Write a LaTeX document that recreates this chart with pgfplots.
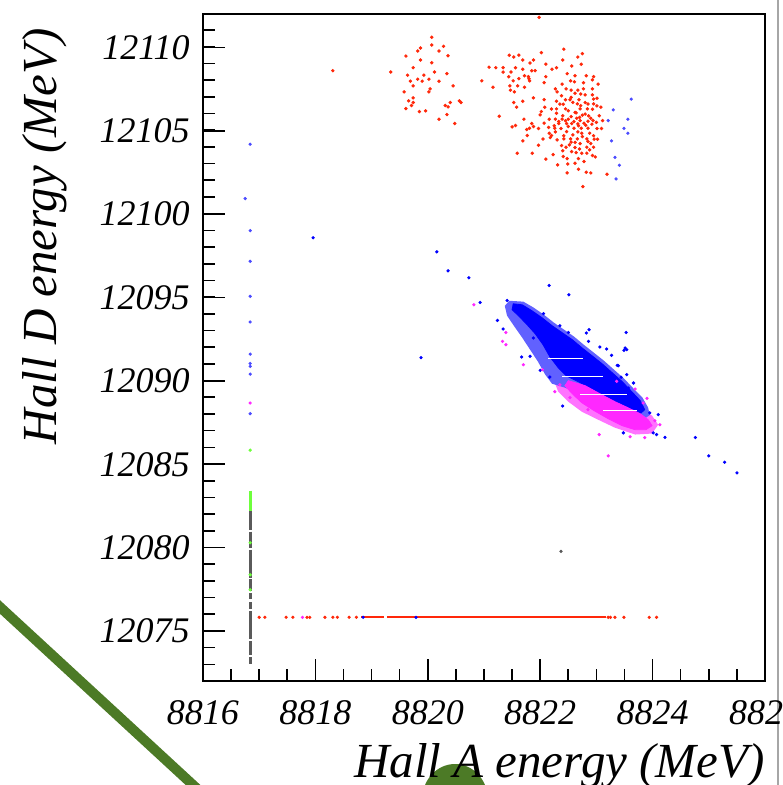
\documentclass[border=0pt]{standalone}
\usepackage{fontspec}
\setmainfont{Liberation Serif}
\usepackage{pgfplots}
\pgfplotsset{compat=1.18}
\definecolor{rootred}{RGB}{255,40,10}
\definecolor{rootblue}{RGB}{0,0,255}
\definecolor{rootmag}{RGB}{255,40,255}
\definecolor{rootgreen}{RGB}{110,255,60}
\definecolor{rootgrey}{RGB}{90,90,90}
\definecolor{slidegreen}{RGB}{76,122,38}
\begin{document}
\begin{tikzpicture}
\useasboundingbox (-101.5pt,-52pt) rectangle (289.5pt,340.5pt);
\clip (-101.5pt,-52pt) rectangle (289.5pt,340.5pt);
% slide decorations around the screenshot
\fill[slidegreen] (126pt,-59.5pt) ellipse [x radius=16.5pt, y radius=18pt];
\draw[slidegreen, line width=5pt] (-111.5pt,46.2pt) -- (5pt,-61.2pt);
\draw[gray!70, line width=1pt] (287.3pt,-60pt) -- (287.3pt,350pt);
\begin{axis}[
  at={(0pt,0pt)}, anchor=south west,
  scale only axis, width=281pt, height=333.5pt,
  xmin=8816, xmax=8826, ymin=12072, ymax=12112,
  axis line style={black, line width=1pt},
  tick style={black, line width=0.8pt},
  major tick length=11pt, minor tick length=6pt,
  tick align=inside, xtick pos=bottom, ytick pos=left,
  xtick={8816,8818,...,8826}, ytick={12075,12080,...,12110},
  minor xtick={8816.5,8817,...,8825.5}, minor ytick={12073,12074,...,12111},
  scaled x ticks=false, scaled y ticks=false,
  /pgf/number format/1000 sep={},
  /pgf/number format/assume math mode=true,
  xticklabel style={font=\fontsize{18}{18}\selectfont\itshape, inner sep=0pt, anchor=north, yshift=-9.5pt},
  yticklabel style={font=\fontsize{18}{18}\selectfont\itshape, inner sep=0pt, anchor=east, xshift=-6.5pt},
  xlabel={Hall A energy (MeV)}, ylabel={Hall D energy (MeV)},
  every axis x label/.style={at={(axis description cs:1,-0.1454)}, anchor=base east, inner sep=0pt, font=\fontsize{24.5}{24.5}\selectfont\itshape},
  every axis y label/.style={at={(axis description cs:-0.281,0.979)}, rotate=90, anchor=east, inner sep=0pt, font=\fontsize{24.5}{24.5}\selectfont\itshape},
]
% ---- red cluster (left group)
\addplot[only marks, mark=*, mark size=0.65pt, color=rootred] coordinates {
(8818.31,12108.60)(8819.34,12108.52)(8820.07,12110.60)(8820.07,12110.14)(8819.87,12109.96)
(8819.82,12109.78)(8820.28,12110.06)(8820.20,12109.78)(8819.61,12109.48)(8820.36,12109.50)
(8819.87,12109.24)(8820.07,12109.08)(8819.74,12108.78)(8820.12,12108.52)(8820.34,12108.42)
(8819.64,12108.33)(8819.93,12108.33)(8819.82,12108.09)(8820.02,12108.09)(8819.69,12107.97)
(8819.90,12107.97)(8820.20,12107.97)(8819.74,12107.69)(8820.45,12107.69)(8820.04,12107.51)
(8819.58,12107.33)(8820.02,12107.33)(8819.74,12106.97)(8819.66,12106.79)(8819.74,12106.69)
(8820.56,12106.79)(8820.59,12106.69)(8820.40,12106.69)(8819.71,12106.51)(8820.31,12106.51)
(8820.36,12106.43)(8819.61,12106.33)(8819.85,12106.15)(8819.96,12106.19)(8820.34,12105.97)
(8820.20,12105.69)(8820.48,12105.43)(8820.96,12107.99)(8821.09,12108.81)
};
% ---- red cluster (right group)
\addplot[only marks, mark=*, mark size=0.65pt, color=rootred] coordinates {
(8821.98,12111.80)(8822.42,12109.89)(8822.02,12109.68)(8821.45,12109.53)(8821.53,12109.42)
(8821.62,12109.53)(8822.75,12109.62)(8822.67,12109.42)(8822.40,12109.24)(8821.69,12109.24)
(8821.88,12109.24)(8821.82,12109.06)(8822.10,12108.99)(8822.73,12108.99)(8822.56,12108.88)
(8821.21,12108.78)(8821.34,12108.78)(8821.56,12108.78)(8822.29,12108.78)(8822.21,12108.69)
(8821.69,12108.69)(8821.85,12108.60)(8821.91,12108.60)(8821.34,12108.52)(8821.48,12108.52)
(8822.48,12108.42)(8822.62,12108.30)(8822.82,12108.30)(8821.72,12108.30)(8821.79,12108.24)
(8821.44,12108.24)(8822.10,12108.24)(8822.95,12108.24)(8821.80,12108.12)(8821.62,12108.12)
(8822.93,12108.05)(8821.52,12107.99)(8821.81,12107.99)(8822.07,12107.88)(8822.54,12107.99)
(8822.77,12107.88)(8822.61,12107.93)(8822.39,12107.79)(8823.03,12107.79)(8821.16,12107.61)
(8821.46,12107.69)(8821.60,12107.69)(8821.72,12107.61)(8822.27,12107.51)(8822.46,12107.51)
(8822.55,12107.43)(8822.67,12107.43)(8822.77,12107.51)(8822.93,12107.51)(8821.47,12107.43)
(8821.54,12107.33)(8822.30,12107.33)(8822.62,12107.25)(8822.80,12107.15)(8822.93,12107.15)
(8823.01,12106.95)(8821.88,12106.97)(8822.07,12106.86)(8822.45,12106.86)(8822.53,12106.86)
(8822.69,12106.86)(8822.29,12106.77)(8822.80,12106.69)(8821.69,12106.77)(8821.53,12106.69)
(8822.66,12106.61)(8822.95,12106.61)(8822.41,12106.59)(8823.01,12106.49)(8821.58,12106.41)
(8822.08,12106.41)(8822.29,12106.31)(8822.45,12106.31)(8822.71,12106.31)(8822.84,12106.31)
(8822.93,12106.29)(8823.08,12106.41)(8821.27,12105.87)(8822.02,12106.15)(8822.29,12106.05)
(8822.64,12106.07)(8822.75,12105.93)(8822.86,12105.89)(8822.00,12105.95)(8821.71,12105.69)
(8822.16,12105.69)(8822.27,12105.69)(8822.39,12105.69)(8822.50,12105.69)(8822.65,12105.75)
(8822.71,12105.61)(8822.85,12105.57)(8822.94,12105.61)(8823.11,12105.61)(8822.07,12105.45)
(8822.33,12105.43)(8822.47,12105.43)(8822.56,12105.43)(8822.67,12105.41)(8822.81,12105.33)
(8822.92,12105.39)(8821.85,12105.43)(8821.56,12105.31)(8821.50,12105.23)(8821.88,12105.25)
(8821.81,12105.15)(8821.76,12105.07)(8822.26,12105.15)(8822.37,12105.13)(8822.60,12105.15)
(8822.73,12105.15)(8823.01,12105.13)(8823.09,12105.13)(8821.97,12105.13)(8822.16,12104.85)
(8822.27,12104.93)(8822.47,12104.95)(8822.67,12104.93)(8822.74,12104.85)(8822.88,12104.85)
(8822.20,12104.71)(8821.77,12104.71)(8822.18,12104.59)(8822.42,12104.51)(8822.54,12104.51)
(8822.66,12104.51)(8822.83,12104.51)(8822.96,12104.49)(8823.02,12104.49)(8821.69,12104.39)
(8822.55,12104.31)(8822.71,12104.23)(8822.90,12104.23)(8821.97,12104.13)(8822.38,12104.11)
(8822.46,12104.01)(8822.62,12103.99)(8822.83,12104.01)(8822.95,12104.01)(8821.59,12103.65)
(8821.86,12103.65)(8822.23,12103.57)(8822.56,12103.75)(8822.64,12103.69)(8822.74,12103.65)
(8822.83,12103.65)(8822.93,12103.51)(8822.41,12103.45)(8822.98,12103.43)(8822.48,12103.33)
(8822.68,12103.33)(8822.78,12103.15)(8822.31,12102.95)(8822.49,12103.01)(8822.62,12103.05)
(8822.68,12102.69)(8822.48,12102.47)(8822.82,12102.51)(8822.90,12102.47)(8823.19,12102.39)
(8822.76,12101.65)
(8822.35,12106.60)(8822.58,12106.70)(8822.72,12106.50)(8822.50,12106.20)(8822.62,12106.10)
(8822.80,12106.00)(8822.40,12105.90)(8822.55,12105.85)(8822.70,12105.80)(8822.90,12105.75)
(8822.33,12105.55)(8822.45,12105.60)(8822.60,12105.55)(8822.78,12105.45)(8823.00,12105.50)
(8822.25,12105.30)(8822.50,12105.25)(8822.68,12105.30)(8822.85,12105.15)(8822.42,12104.70)
(8822.58,12104.75)(8822.75,12104.65)(8822.95,12104.70)(8822.30,12104.45)(8822.62,12104.30)
(8822.85,12104.35)(8822.52,12104.15)(8822.70,12103.90)(8822.40,12103.80)(8822.88,12103.85)
(8822.20,12106.30)(8822.15,12105.20)(8822.05,12104.50)(8822.55,12107.00)(8822.85,12106.60)
(8822.38,12107.10)(8822.72,12107.20)(8823.05,12105.90)(8822.95,12106.90)(8822.10,12103.30)
};
% ---- blue points near the red cluster
\addplot[only marks, mark=*, mark size=0.6pt, color=rootblue!70] coordinates {
(8823.62,12106.89)(8823.30,12106.25)(8823.21,12105.61)(8823.56,12105.69)(8823.49,12105.14)
(8823.56,12104.85)(8823.27,12104.39)(8823.33,12103.40)(8823.41,12102.93)(8823.35,12102.11)
};
% ---- speckled fringe of the magenta band
\addplot[fill=rootmag!65, draw=none] coordinates {
(8822.35,12090.19)(8822.71,12089.95)(8823.06,12089.47)(8823.42,12088.99)(8823.78,12088.39)
(8823.99,12087.91)(8824.10,12087.37)(8823.99,12086.84)(8823.69,12086.78)(8823.33,12087.19)
(8823.03,12087.67)(8822.74,12088.15)(8822.50,12088.75)(8822.32,12089.35)(8822.26,12089.89)
} -- cycle;
% ---- speckled fringe of the blue band
\addplot[fill=rootblue!62, draw=none] coordinates {
(8821.45,12094.80)(8821.70,12094.75)(8821.88,12094.40)(8822.06,12093.98)(8822.24,12093.50)
(8822.42,12093.08)(8822.60,12092.66)(8822.77,12092.18)(8822.95,12091.70)(8823.13,12091.22)
(8823.31,12090.68)(8823.49,12090.14)(8823.66,12089.54)(8823.82,12088.99)(8823.92,12088.40)
(8823.95,12087.95)(8823.78,12087.55)(8823.51,12087.97)(8823.15,12088.57)(8822.80,12089.11)
(8822.44,12089.59)(8822.21,12089.83)(8822.09,12090.37)(8821.96,12091.15)(8821.82,12091.87)
(8821.68,12092.59)(8821.53,12093.31)(8821.41,12093.91)(8821.37,12094.50)
} -- cycle;
% ---- dense blue band (core)
\addplot[fill=rootblue, draw=rootblue, line width=0.4pt] coordinates {
(8821.52,12094.62)(8821.68,12094.56)(8821.85,12094.21)(8822.03,12093.79)(8822.21,12093.31)
(8822.39,12092.89)(8822.57,12092.47)(8822.74,12091.99)(8822.92,12091.51)(8823.10,12091.03)
(8823.28,12090.49)(8823.46,12089.95)(8823.63,12089.35)(8823.78,12088.81)(8823.86,12088.27)
(8823.78,12088.03)(8823.56,12088.39)(8823.33,12088.75)(8823.06,12089.23)(8822.85,12089.65)
(8822.64,12090.01)(8822.46,12090.31)(8822.32,12090.79)(8822.17,12091.45)(8822.05,12092.17)
(8821.91,12092.83)(8821.75,12093.43)(8821.61,12093.91)(8821.50,12094.27)
} -- cycle;
% ---- dense magenta band (core)
\addplot[fill=rootmag, draw=rootmag, line width=0.4pt] coordinates {
(8822.50,12090.01)(8822.80,12089.71)(8823.06,12089.23)(8823.33,12088.75)(8823.56,12088.39)
(8823.78,12088.03)(8823.92,12087.67)(8823.99,12087.31)(8823.88,12087.07)(8823.69,12087.07)
(8823.46,12087.31)(8823.21,12087.73)(8822.96,12088.21)(8822.74,12088.69)(8822.57,12089.23)
(8822.44,12089.71)
} -- cycle;
% ---- white rendering stripes across the band
\addplot[white, line width=0.6pt] coordinates {(8822.14,12091.33)(8822.76,12091.33)};
\addplot[white, line width=0.6pt] coordinates {(8822.39,12090.27)(8823.12,12090.27)};
\addplot[white, line width=0.6pt] coordinates {(8822.71,12089.17)(8823.54,12089.17)};
\addplot[white, line width=0.6pt] coordinates {(8823.12,12088.23)(8823.72,12088.23)};
% ---- blue scattered points
\addplot[only marks, mark=*, mark size=0.6pt, color=rootblue] coordinates {
(8820.93,12094.70)(8821.41,12094.82)(8822.16,12095.72)(8822.51,12095.16)(8821.24,12093.62)
(8821.34,12093.11)(8822.06,12094.03)(8822.35,12093.31)(8822.50,12092.90)(8822.82,12092.87)
(8822.87,12093.07)(8823.06,12092.03)(8823.18,12091.91)(8823.37,12090.93)(8823.53,12092.90)
(8823.54,12091.87)(8821.88,12092.57)(8821.82,12091.47)(8821.67,12091.43)(8822.00,12090.63)
(8822.17,12090.23)(8822.40,12088.49)(8822.86,12092.37)(8823.49,12091.83)(8823.39,12090.91)
(8823.54,12090.37)(8823.66,12089.87)(8823.57,12089.27)(8823.95,12088.08)(8824.10,12087.97)
(8824.01,12086.88)(8824.22,12086.61)(8823.48,12086.88)(8823.51,12091.97)(8823.27,12091.53)
(8823.44,12090.21)(8823.57,12089.57)(8824.07,12086.78)(8824.76,12086.60)(8825.00,12085.50)
(8825.28,12085.12)(8825.50,12084.48)
(8817.96,12098.58)(8820.16,12097.74)(8820.36,12096.60)(8820.73,12096.18)(8819.88,12091.39)
};
% ---- magenta scattered points
\addplot[only marks, mark=*, mark size=0.6pt, color=rootmag] coordinates {
(8820.82,12094.56)(8821.39,12092.90)(8821.33,12092.37)(8821.39,12092.17)(8821.70,12090.97)
(8822.04,12090.67)(8822.35,12089.77)(8822.26,12089.35)(8823.36,12089.97)(8823.69,12089.51)
(8823.90,12088.95)(8823.83,12088.67)(8824.04,12087.61)(8823.05,12086.78)(8823.21,12085.50)
(8824.13,12087.37)(8823.86,12086.60)(8823.60,12086.65)(8822.62,12089.17)(8822.85,12088.27)
(8822.53,12088.99)
};
% ---- isolated dark point
\addplot[only marks, mark=*, mark size=0.6pt, color=rootgrey] coordinates {(8822.37,12079.77)};
% ---- vertical column at 8816.84
\addplot[rootgrey, line width=1.5pt, unbounded coords=jump] coordinates {
(8816.84,12082.22)(8816.84,12081.08)(8816.84,nan)
(8816.84,12080.96)(8816.84,12080.00)(8816.84,nan)
(8816.84,12079.88)(8816.84,12078.20)(8816.84,nan)
(8816.84,12078.09)(8816.84,12077.37)(8816.84,nan)
(8816.84,12077.25)(8816.84,12076.89)(8816.84,nan)
(8816.84,12076.71)(8816.84,12076.29)(8816.84,nan)
(8816.84,12076.17)(8816.84,12074.49)(8816.84,nan)
(8816.84,12074.37)(8816.84,12073.53)(8816.84,nan)
(8816.84,12073.41)(8816.84,12072.99)
};
\addplot[rootgreen, line width=1.5pt] coordinates {(8816.84,12083.42)(8816.84,12082.22)};
\addplot[only marks, mark=*, mark size=0.6pt, color=rootgreen] coordinates {
(8816.84,12085.84)(8816.84,12080.29)(8816.84,12078.37)(8816.84,12077.47)};
\addplot[only marks, mark=*, mark size=0.6pt, color=rootblue!70] coordinates {
(8816.84,12104.19)(8816.75,12100.93)(8816.84,12099.01)(8816.84,12097.17)(8816.84,12095.07)
(8816.84,12093.53)(8816.84,12091.60)(8816.84,12091.04)(8816.84,12090.87)(8816.84,12090.40)
(8816.84,12088.03)};
\addplot[only marks, mark=*, mark size=0.6pt, color=rootmag] coordinates {(8816.84,12088.67)(8817.77,12075.82)};
% ---- horizontal band at 12075.82
\addplot[rootred, line width=1pt] coordinates {(8818.82,12075.82)(8819.22,12075.82)};
\addplot[rootred, line width=1pt] coordinates {(8819.27,12075.82)(8823.17,12075.82)};
\addplot[only marks, mark=*, mark size=0.6pt, color=rootred] coordinates {
(8817.00,12075.82)(8817.10,12075.82)(8817.48,12075.82)(8817.60,12075.82)(8817.85,12075.82)
(8817.90,12075.82)(8818.17,12075.82)(8818.31,12075.82)(8818.39,12075.82)(8818.60,12075.82)
(8818.73,12075.82)(8823.21,12075.82)(8823.25,12075.82)(8823.33,12075.82)(8823.49,12075.82)
(8823.94,12075.82)(8824.07,12075.82)};
\addplot[only marks, mark=*, mark size=0.6pt, color=rootblue] coordinates {(8818.85,12075.82)(8819.79,12075.82)};
\end{axis}
\end{tikzpicture}
\end{document}
